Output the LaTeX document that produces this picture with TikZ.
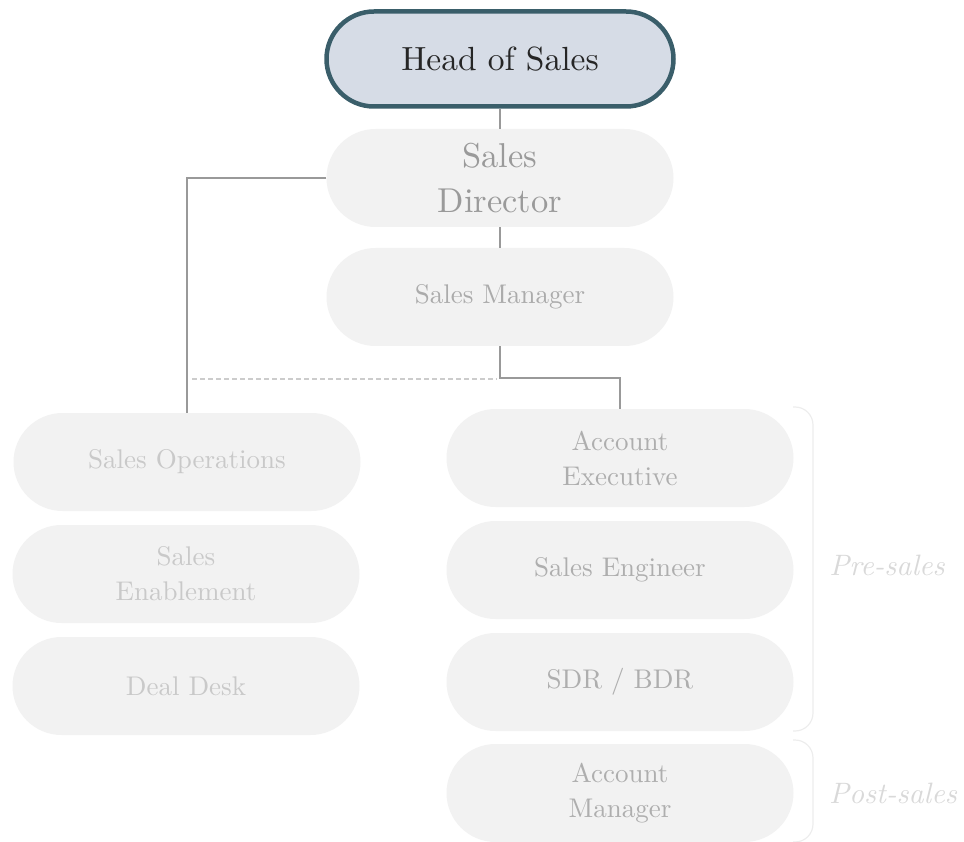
\documentclass[tikz,border=0pt]{standalone}
\usepackage{fontspec}
\setmainfont{lmroman10-regular}[Extension=.otf, ItalicFont=lmroman10-italic, BoldFont=lmroman10-bold]
\usetikzlibrary{shapes.misc}
\definecolor{headfill}{HTML}{D6DCE6}
\definecolor{headdraw}{HTML}{3A5E6A}
\definecolor{boxfill}{HTML}{F2F2F2}
\definecolor{conn}{HTML}{999999}
\definecolor{dashc}{HTML}{CCCCCC}
\definecolor{brk}{HTML}{EDEDED}
\definecolor{txtdir}{HTML}{9A9A9A}
\definecolor{txtmgr}{HTML}{ABABAB}
\definecolor{txtleft}{HTML}{C9C9C9}
\definecolor{txtright}{HTML}{AEAEAE}
\definecolor{txtgroup}{HTML}{D9D9D9}
\tikzset{
  pill/.style={rounded rectangle, fill=boxfill, draw=none, minimum width=347pt, minimum height=98pt, inner sep=0pt, align=center},
  headpill/.style={rounded rectangle, fill=headfill, draw=headdraw, line width=4.5pt, minimum width=347pt, minimum height=95pt, inner sep=0pt, align=center, text=black!85, font=\fontsize{33.5}{42}\selectfont},
  dirtxt/.style={text=txtdir, font=\fontsize{34.5}{45}\selectfont},
  mgrtxt/.style={text=txtmgr, font=\fontsize{27}{35}\selectfont},
  lefttxt/.style={text=txtleft, font=\fontsize{27}{35}\selectfont},
  righttxt/.style={text=txtright, font=\fontsize{27}{35}\selectfont},
  grouptxt/.style={text=txtgroup, font=\fontsize{29.5}{36}\selectfont\itshape},
  connline/.style={draw=conn, line width=1.4pt},
  dashline/.style={draw=dashc, line width=1.2pt, dash pattern=on 5pt off 3pt},
  bracket/.style={draw=brk, line width=1.2pt, rounded corners=18pt}
}
\begin{document}
\begin{tikzpicture}[x=1pt, y=-1pt]
\useasboundingbox (0,0) rectangle (964,842);
\node[headpill] (head) at (500,59) {Head of Sales};
\node[pill, dirtxt] (dir) at (500,178) {Sales\\Director};
\node[pill, mgrtxt] (mgr) at (500,297) {Sales Manager};
\node[pill, lefttxt] (ops) at (187,462) {Sales Operations};
\node[pill, lefttxt] (ena) at (186,574) {Sales\\Enablement};
\node[pill, lefttxt] (deal) at (186,686) {Deal Desk};
\node[pill, righttxt] (ae) at (620,458) {Account\\Executive};
\node[pill, righttxt] (se) at (620,570) {Sales Engineer};
\node[pill, righttxt] (sdr) at (620,682) {SDR / BDR};
\node[pill, righttxt] (am) at (620,793) {Account\\Manager};
\node[grouptxt] (pre) at (887,565) {Pre-sales};
\node[grouptxt] (post) at (893,793) {Post-sales};
\coordinate (mgrjoin) at (500,378);
\coordinate (dashl) at (192,379);
\coordinate (dashr) at (497,379);
\coordinate (pretop) at (793,407);
\coordinate (prebot) at (793,731);
\coordinate (posttop) at (793,740);
\coordinate (postbot) at (793,842);
\draw[connline] (head.south) -- (dir.north);
\draw[connline] (dir.south) -- (mgr.north);
\draw[connline] (dir.west) -| (ops.north);
\draw[connline] (mgr.south) -- (mgrjoin) -| (ae.north);
\draw[dashline] (dashl) -- (dashr);
\draw[bracket] (pretop) -- ++(20,0) -- ++(0,324) -- (prebot);
\draw[bracket] (posttop) -- ++(20,0) -- ++(0,102) -- (postbot);
\end{tikzpicture}
\end{document}
